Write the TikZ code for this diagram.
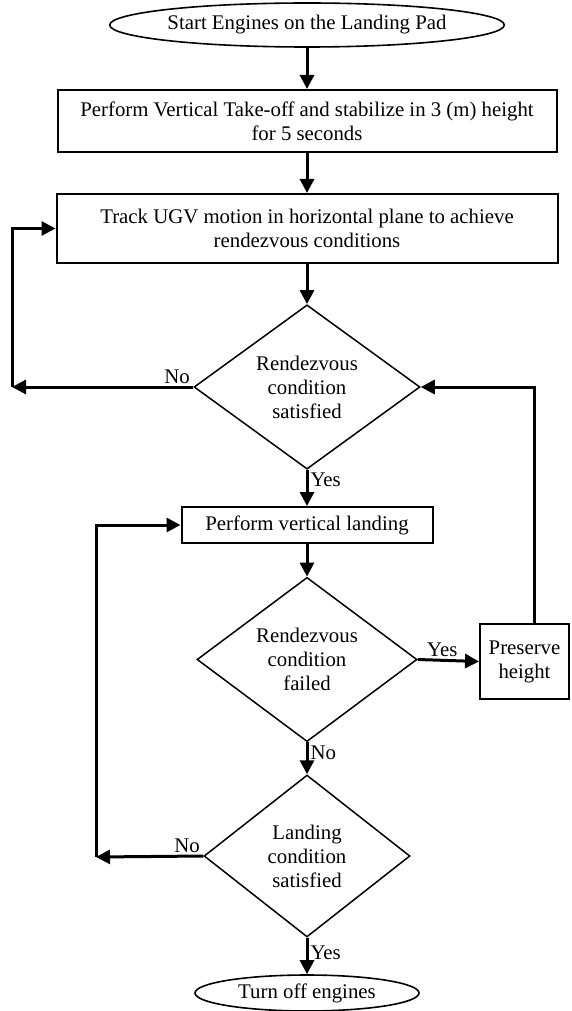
\documentclass[tikz,border=0pt]{standalone}
\usepackage{fontspec}
\setmainfont{Liberation Serif}
\usetikzlibrary{shapes.geometric,arrows.meta}
\tikzset{every node/.style={font=\fontsize{20.8}{24}\selectfont},
         terminal/.style={draw,ellipse,line width=1.6pt,inner sep=0pt},
         process/.style={draw,rectangle,line width=2pt,align=center,inner sep=0pt},
         decision/.style={draw,diamond,line width=1.5pt,align=center,inner sep=0pt},
         flow/.style={draw,line width=3pt,-{Triangle[length=14pt,width=14pt]}},
         answer/.style={inner sep=2pt},
         x=1pt,y=-1pt}

\begin{document}
\begin{tikzpicture}
\useasboundingbox (0,0) rectangle (572,1011);
% boxes of the chart
\node[terminal,minimum width=372pt,minimum height=44pt] (start) at (307,25) {Start Engines on the Landing Pad};
\node[process,minimum width=499pt,minimum height=62pt] (takeoff) at (307,121)
    {Perform Vertical Take-off and stabilize in 3 (m) height\\for 5 seconds};
\node[process,minimum width=501pt,minimum height=69pt] (track) at (307,228.5)
    {Track UGV motion in horizontal plane to achieve\\rendezvous conditions};
\node[decision,minimum width=226pt,minimum height=161pt] (rendsat) at (307,387)
    {Rendezvous\\condition\\satisfied};
\node[process,minimum width=251pt,minimum height=36pt] (land) at (307,525) {Perform vertical landing};
\node[decision,minimum width=220pt,minimum height=153pt] (rendfail) at (307,659.5)
    {Rendezvous\\condition\\failed};
\node[process,minimum width=89pt,minimum height=75pt] (preserve) at (524.5,661.5) {Preserve\\height};
\node[decision,minimum width=206pt,minimum height=162pt] (landsat) at (307,856)
    {Landing\\condition\\satisfied};
\node[terminal,minimum width=224pt,minimum height=36pt] (stop) at (307,993) {Turn off engines};

\coordinate (loopA) at (12,387);
\coordinate (loopB) at (96,857);

% main line
\draw[flow] (start) -- (takeoff);
\draw[flow] (takeoff) -- (track);
\draw[flow] (track) -- (rendsat);
\draw[flow] (rendsat) -- node[answer,pos=0.28,right] (yesA) {Yes} (land);
\draw[flow] (land) -- (rendfail);
\draw[flow] (rendfail) -- node[answer,pos=0.33,right] (noB) {No} (landsat);
\draw[flow] (landsat) -- node[answer,pos=0.42,right] (yesC) {Yes} (stop);

% side branches
\draw[flow] (rendfail.east) -- node[answer,pos=0.4,above] (yesB) {Yes} (preserve.west);
\draw[flow] ([xshift=10pt]preserve.north) |- (rendsat.east);
\draw[flow] (rendsat.west) -- node[answer,at start,anchor=south east] (noA) {No} (loopA);
\draw[flow] (loopA) |- (track.west);
\draw[flow] (landsat.west) -- node[answer,at start,anchor=south east] (noC) {No} (loopB);
\draw[flow] (loopB) |- (land.west);
\end{tikzpicture}
\end{document}
